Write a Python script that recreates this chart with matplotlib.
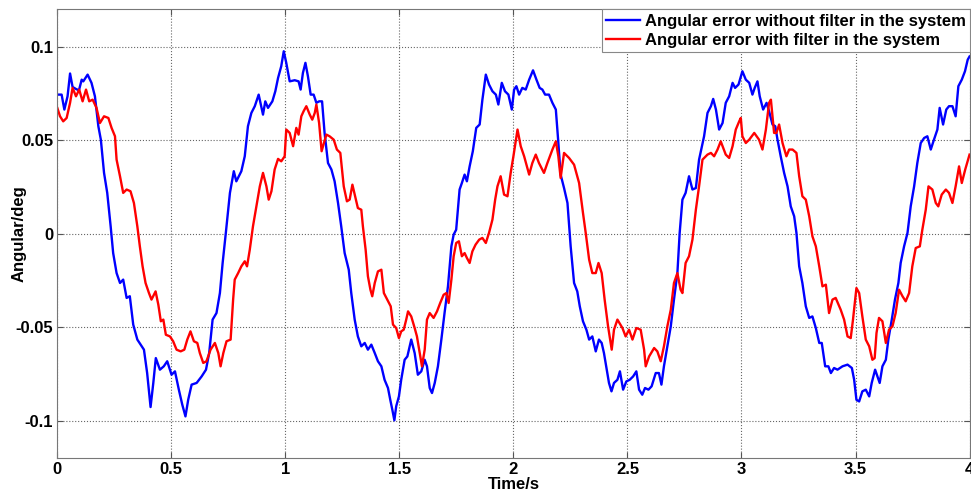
import matplotlib
matplotlib.use('Agg')
import matplotlib.pyplot as plt

# values (time in s, angle in deg)
blue_t = [0.000, 0.019, 0.031, 0.045, 0.056, 0.067, 0.082, 0.095, 0.107, 0.114,
          0.133, 0.150, 0.165, 0.180, 0.191, 0.205, 0.219, 0.234, 0.245, 0.260,
          0.275, 0.289, 0.304, 0.318, 0.333, 0.351, 0.370, 0.380, 0.394, 0.409,
          0.421, 0.432, 0.450, 0.467, 0.482, 0.501, 0.516, 0.533, 0.548, 0.562,
          0.574, 0.589, 0.611, 0.633, 0.652, 0.666, 0.681, 0.698, 0.713, 0.725,
          0.739, 0.757, 0.774, 0.785, 0.807, 0.822, 0.836, 0.851, 0.866, 0.883,
          0.902, 0.912, 0.924, 0.943, 0.956, 0.968, 0.982, 0.993, 1.004, 1.019,
          1.041, 1.058, 1.067, 1.077, 1.088, 1.099, 1.111, 1.124, 1.136, 1.148,
          1.161, 1.172, 1.187, 1.202, 1.216, 1.231, 1.245, 1.260, 1.278, 1.289,
          1.304, 1.318, 1.333, 1.348, 1.362, 1.377, 1.392, 1.406, 1.421, 1.435,
          1.450, 1.460, 1.469, 1.478, 1.486, 1.498, 1.508, 1.523, 1.535, 1.552,
          1.567, 1.581, 1.596, 1.611, 1.621, 1.633, 1.643, 1.655, 1.669, 1.684,
          1.698, 1.713, 1.728, 1.738, 1.749, 1.764, 1.774, 1.786, 1.796, 1.808,
          1.822, 1.837, 1.852, 1.864, 1.879, 1.893, 1.908, 1.923, 1.934, 1.949,
          1.963, 1.978, 1.993, 2.003, 2.013, 2.025, 2.039, 2.054, 2.069, 2.086,
          2.101, 2.115, 2.127, 2.139, 2.156, 2.171, 2.186, 2.196, 2.207, 2.222,
          2.237, 2.251, 2.266, 2.280, 2.291, 2.305, 2.320, 2.332, 2.346, 2.361,
          2.375, 2.387, 2.397, 2.409, 2.419, 2.430, 2.441, 2.456, 2.467, 2.481,
          2.495, 2.510, 2.525, 2.539, 2.551, 2.565, 2.577, 2.592, 2.606, 2.624,
          2.638, 2.649, 2.660, 2.675, 2.690, 2.704, 2.719, 2.729, 2.741, 2.755,
          2.770, 2.785, 2.800, 2.814, 2.836, 2.851, 2.866, 2.876, 2.888, 2.902,
          2.917, 2.931, 2.946, 2.961, 2.972, 2.987, 3.004, 3.019, 3.034, 3.048,
          3.058, 3.070, 3.080, 3.095, 3.110, 3.121, 3.136, 3.148, 3.158, 3.172,
          3.187, 3.202, 3.216, 3.231, 3.241, 3.253, 3.267, 3.282, 3.297, 3.311,
          3.326, 3.341, 3.352, 3.367, 3.381, 3.392, 3.406, 3.421, 3.443, 3.465,
          3.484, 3.494, 3.504, 3.516, 3.530, 3.545, 3.560, 3.571, 3.586, 3.596,
          3.606, 3.618, 3.633, 3.644, 3.659, 3.673, 3.688, 3.698, 3.713, 3.728,
          3.742, 3.757, 3.771, 3.786, 3.801, 3.815, 3.830, 3.844, 3.859, 3.869,
          3.884, 3.898, 3.910, 3.925, 3.939, 3.951, 3.966, 3.980, 3.992, 4.000]
blue_y = [0.0744, 0.0744, 0.0664, 0.0735, 0.0857, 0.0785, 0.0774, 0.0767, 0.0824, 0.0815,
          0.0851, 0.0807, 0.0735, 0.0575, 0.0503, 0.0325, 0.0218, 0.0039, -0.0104, -0.0211,
          -0.0264, -0.0246, -0.0344, -0.0335, -0.0487, -0.0567, -0.0603, -0.0621, -0.0746, -0.0928,
          -0.0799, -0.0666, -0.0728, -0.0710, -0.0683, -0.0755, -0.0737, -0.0835, -0.0915, -0.0978,
          -0.0889, -0.0808, -0.0799, -0.0764, -0.0728, -0.0639, -0.0460, -0.0425, -0.0318, -0.0157,
          0.0004, 0.0218, 0.0334, 0.0280, 0.0334, 0.0414, 0.0575, 0.0646, 0.0682, 0.0744,
          0.0637, 0.0708, 0.0673, 0.0708, 0.0762, 0.0833, 0.0896, 0.0976, 0.0914, 0.0815,
          0.0821, 0.0815, 0.0771, 0.0860, 0.0914, 0.0842, 0.0744, 0.0744, 0.0700, 0.0708,
          0.0708, 0.0539, 0.0378, 0.0343, 0.0280, 0.0164, 0.0039, -0.0104, -0.0193, -0.0318,
          -0.0460, -0.0550, -0.0603, -0.0585, -0.0621, -0.0594, -0.0639, -0.0683, -0.0710, -0.0782,
          -0.0826, -0.0889, -0.0942, -0.0999, -0.0924, -0.0871, -0.0782, -0.0675, -0.0657, -0.0567,
          -0.0639, -0.0755, -0.0737, -0.0675, -0.0710, -0.0826, -0.0853, -0.0799, -0.0710, -0.0567,
          -0.0425, -0.0282, -0.0068, -0.0005, 0.0021, 0.0236, 0.0271, 0.0316, 0.0280, 0.0360,
          0.0441, 0.0566, 0.0584, 0.0717, 0.0851, 0.0798, 0.0762, 0.0744, 0.0691, 0.0807,
          0.0762, 0.0744, 0.0664, 0.0771, 0.0789, 0.0744, 0.0780, 0.0771, 0.0824, 0.0874,
          0.0824, 0.0780, 0.0771, 0.0744, 0.0744, 0.0700, 0.0664, 0.0503, 0.0316, 0.0244,
          0.0164, -0.0068, -0.0264, -0.0309, -0.0389, -0.0469, -0.0514, -0.0567, -0.0550, -0.0630,
          -0.0567, -0.0585, -0.0639, -0.0728, -0.0799, -0.0844, -0.0799, -0.0782, -0.0737, -0.0835,
          -0.0791, -0.0782, -0.0764, -0.0737, -0.0835, -0.0862, -0.0826, -0.0835, -0.0817, -0.0746,
          -0.0746, -0.0808, -0.0710, -0.0603, -0.0496, -0.0353, -0.0211, 0.0004, 0.0182, 0.0218,
          0.0307, 0.0236, 0.0244, 0.0396, 0.0521, 0.0646, 0.0682, 0.0721, 0.0664, 0.0557,
          0.0592, 0.0700, 0.0735, 0.0807, 0.0780, 0.0798, 0.0869, 0.0824, 0.0807, 0.0744,
          0.0780, 0.0815, 0.0735, 0.0664, 0.0700, 0.0655, 0.0584, 0.0575, 0.0503, 0.0414,
          0.0325, 0.0253, 0.0146, 0.0093, 0.0004, -0.0175, -0.0264, -0.0389, -0.0451, -0.0443,
          -0.0505, -0.0585, -0.0585, -0.0710, -0.0710, -0.0746, -0.0719, -0.0728, -0.0710, -0.0701,
          -0.0719, -0.0782, -0.0889, -0.0898, -0.0844, -0.0835, -0.0871, -0.0799, -0.0728, -0.0764,
          -0.0799, -0.0710, -0.0675, -0.0567, -0.0460, -0.0353, -0.0264, -0.0157, -0.0068, 0.0004,
          0.0146, 0.0253, 0.0378, 0.0485, 0.0512, 0.0521, 0.0450, 0.0503, 0.0557, 0.0673,
          0.0584, 0.0664, 0.0682, 0.0682, 0.0628, 0.0789, 0.0824, 0.0869, 0.0931, 0.0948]

red_t = [0.000, 0.012, 0.026, 0.041, 0.056, 0.067, 0.082, 0.096, 0.111, 0.126,
         0.140, 0.155, 0.172, 0.187, 0.205, 0.224, 0.238, 0.253, 0.260, 0.275,
         0.289, 0.304, 0.321, 0.336, 0.351, 0.362, 0.374, 0.387, 0.402, 0.413,
         0.431, 0.443, 0.454, 0.465, 0.476, 0.494, 0.508, 0.523, 0.541, 0.557,
         0.570, 0.584, 0.599, 0.614, 0.625, 0.640, 0.654, 0.672, 0.691, 0.706,
         0.716, 0.728, 0.742, 0.760, 0.771, 0.778, 0.793, 0.807, 0.822, 0.832,
         0.844, 0.858, 0.873, 0.888, 0.902, 0.917, 0.927, 0.939, 0.953, 0.968,
         0.982, 0.997, 1.004, 1.019, 1.034, 1.048, 1.058, 1.070, 1.080, 1.092,
         1.107, 1.118, 1.129, 1.136, 1.148, 1.159, 1.169, 1.180, 1.194, 1.212,
         1.226, 1.241, 1.256, 1.270, 1.282, 1.294, 1.304, 1.318, 1.333, 1.340,
         1.352, 1.362, 1.373, 1.381, 1.392, 1.406, 1.421, 1.432, 1.447, 1.462,
         1.472, 1.486, 1.498, 1.508, 1.519, 1.530, 1.538, 1.552, 1.567, 1.577,
         1.589, 1.599, 1.611, 1.621, 1.633, 1.650, 1.665, 1.679, 1.694, 1.706,
         1.716, 1.728, 1.738, 1.749, 1.761, 1.774, 1.786, 1.796, 1.808, 1.820,
         1.834, 1.850, 1.864, 1.879, 1.893, 1.908, 1.920, 1.930, 1.944, 1.959,
         1.974, 1.988, 2.000, 2.018, 2.032, 2.047, 2.069, 2.083, 2.098, 2.112,
         2.134, 2.149, 2.171, 2.186, 2.197, 2.207, 2.222, 2.244, 2.266, 2.288,
         2.305, 2.317, 2.332, 2.346, 2.361, 2.373, 2.387, 2.400, 2.415, 2.431,
         2.441, 2.456, 2.478, 2.492, 2.507, 2.522, 2.539, 2.558, 2.573, 2.580,
         2.595, 2.617, 2.631, 2.646, 2.660, 2.675, 2.690, 2.704, 2.719, 2.733,
         2.741, 2.755, 2.770, 2.785, 2.800, 2.814, 2.829, 2.851, 2.866, 2.880,
         2.895, 2.909, 2.917, 2.931, 2.946, 2.961, 2.975, 2.990, 2.997, 3.004,
         3.019, 3.034, 3.056, 3.077, 3.092, 3.107, 3.121, 3.129, 3.143, 3.153,
         3.165, 3.180, 3.197, 3.209, 3.224, 3.241, 3.253, 3.267, 3.282, 3.297,
         3.311, 3.326, 3.341, 3.355, 3.370, 3.384, 3.399, 3.413, 3.435, 3.450,
         3.465, 3.479, 3.489, 3.504, 3.516, 3.530, 3.545, 3.560, 3.574, 3.584,
         3.592, 3.603, 3.618, 3.633, 3.647, 3.662, 3.676, 3.691, 3.706, 3.720,
         3.735, 3.749, 3.764, 3.782, 3.793, 3.808, 3.820, 3.837, 3.852, 3.863,
         3.878, 3.896, 3.910, 3.925, 3.939, 3.954, 3.966, 3.981, 4.000]
red_y = [0.0673, 0.0628, 0.0601, 0.0619, 0.0700, 0.0780, 0.0735, 0.0771, 0.0708, 0.0771,
         0.0708, 0.0717, 0.0673, 0.0592, 0.0628, 0.0619, 0.0566, 0.0521, 0.0396, 0.0307,
         0.0218, 0.0236, 0.0227, 0.0164, 0.0039, -0.0068, -0.0175, -0.0264, -0.0318, -0.0353,
         -0.0309, -0.0380, -0.0469, -0.0460, -0.0541, -0.0550, -0.0576, -0.0621, -0.0630, -0.0621,
         -0.0567, -0.0523, -0.0576, -0.0585, -0.0639, -0.0692, -0.0683, -0.0621, -0.0585, -0.0639,
         -0.0710, -0.0639, -0.0576, -0.0567, -0.0353, -0.0246, -0.0211, -0.0175, -0.0148, -0.0175,
         -0.0086, 0.0039, 0.0146, 0.0253, 0.0325, 0.0253, 0.0182, 0.0227, 0.0343, 0.0400,
         0.0387, 0.0414, 0.0557, 0.0539, 0.0468, 0.0566, 0.0530, 0.0628, 0.0655, 0.0682,
         0.0637, 0.0610, 0.0646, 0.0691, 0.0592, 0.0441, 0.0485, 0.0530, 0.0521, 0.0503,
         0.0450, 0.0432, 0.0253, 0.0173, 0.0182, 0.0262, 0.0209, 0.0137, 0.0128, 0.0039,
         -0.0086, -0.0228, -0.0300, -0.0335, -0.0264, -0.0202, -0.0193, -0.0318, -0.0353, -0.0389,
         -0.0487, -0.0505, -0.0559, -0.0523, -0.0514, -0.0460, -0.0416, -0.0443, -0.0505, -0.0550,
         -0.0639, -0.0710, -0.0621, -0.0460, -0.0425, -0.0451, -0.0416, -0.0371, -0.0327, -0.0318,
         -0.0371, -0.0246, -0.0121, -0.0050, -0.0041, -0.0121, -0.0104, -0.0130, -0.0157, -0.0095,
         -0.0059, -0.0032, -0.0023, -0.0050, 0.0004, 0.0075, 0.0182, 0.0253, 0.0307, 0.0209,
         0.0200, 0.0325, 0.0414, 0.0557, 0.0468, 0.0414, 0.0316, 0.0378, 0.0423, 0.0378,
         0.0325, 0.0378, 0.0450, 0.0494, 0.0414, 0.0298, 0.0432, 0.0405, 0.0369, 0.0271,
         0.0111, 0.0004, -0.0139, -0.0211, -0.0211, -0.0157, -0.0211, -0.0353, -0.0496, -0.0621,
         -0.0514, -0.0460, -0.0505, -0.0550, -0.0514, -0.0567, -0.0505, -0.0514, -0.0621, -0.0710,
         -0.0657, -0.0612, -0.0630, -0.0683, -0.0603, -0.0496, -0.0407, -0.0264, -0.0211, -0.0300,
         -0.0318, -0.0157, -0.0121, -0.0032, 0.0128, 0.0253, 0.0396, 0.0423, 0.0432, 0.0414,
         0.0450, 0.0494, 0.0468, 0.0423, 0.0405, 0.0468, 0.0557, 0.0601, 0.0619, 0.0521,
         0.0485, 0.0503, 0.0539, 0.0503, 0.0450, 0.0557, 0.0700, 0.0717, 0.0539, 0.0539,
         0.0584, 0.0485, 0.0414, 0.0450, 0.0450, 0.0432, 0.0307, 0.0200, 0.0182, 0.0093,
         -0.0014, -0.0068, -0.0175, -0.0282, -0.0273, -0.0425, -0.0353, -0.0344, -0.0407, -0.0460,
         -0.0550, -0.0559, -0.0460, -0.0291, -0.0318, -0.0443, -0.0567, -0.0603, -0.0675, -0.0666,
         -0.0532, -0.0451, -0.0469, -0.0585, -0.0514, -0.0496, -0.0425, -0.0300, -0.0335, -0.0362,
         -0.0318, -0.0175, -0.0077, -0.0068, 0.0021, 0.0128, 0.0253, 0.0236, 0.0164, 0.0146,
         0.0209, 0.0236, 0.0218, 0.0164, 0.0253, 0.0360, 0.0271, 0.0343, 0.0423]

labels = ['Angular error without filter in the system',
          'Angular error with filter in the system']
x_ticks = [0, 0.5, 1, 1.5, 2, 2.5, 3, 3.5, 4]
x_tick_labels = ['0', '0.5', '1', '1.5', '2', '2.5', '3', '3.5', '4']
y_ticks = [-0.1, -0.05, 0, 0.05, 0.1]
y_tick_labels = ['-0.1', '-0.05', '0', '0.05', '0.1']

plt.rcParams['font.family'] = ['Liberation Sans', 'DejaVu Sans']
plt.rcParams['font.weight'] = 'bold'

fig = plt.figure(figsize=(9.71, 4.95), dpi=100)
ax = fig.add_axes([0.059, 0.075, 0.9395, 0.906])

ax.plot(blue_t, blue_y, color='#0000ff', lw=1.7, label=labels[0])
ax.plot(red_t, red_y, color='#ff0000', lw=1.7, label=labels[1])

ax.set_xlim(0, 4)
ax.set_ylim(-0.12, 0.12)
ax.set_xticks(x_ticks)
ax.set_xticklabels(x_tick_labels)
ax.set_yticks(y_ticks)
ax.set_yticklabels(y_tick_labels)
ax.tick_params(direction='in', top=True, right=True, length=4, width=0.8,
               labelsize=12, color='#555555', pad=3)
for lab in ax.get_xticklabels() + ax.get_yticklabels():
    lab.set_fontweight('bold')
ax.grid(True, linestyle=':', color='#666666', linewidth=0.8)
for s in ax.spines.values():
    s.set_color('#777777')
    s.set_linewidth(0.8)

ax.set_xlabel('Time/s', fontsize=12, fontweight='bold', labelpad=0)
ax.set_ylabel('Angular/deg', fontsize=12, fontweight='bold')
ax.yaxis.set_label_coords(-0.034, 0.5)

leg = ax.legend(loc='upper right', borderaxespad=0, fontsize=12, frameon=True,
                fancybox=False, handlelength=2.0, handletextpad=0.3,
                borderpad=0.25, labelspacing=0.25)
leg.get_frame().set_edgecolor('#888888')
leg.get_frame().set_linewidth(0.8)
leg.get_frame().set_alpha(1)
for t in leg.get_texts():
    t.set_fontweight('bold')

fig.savefig('out.png', dpi=100)
